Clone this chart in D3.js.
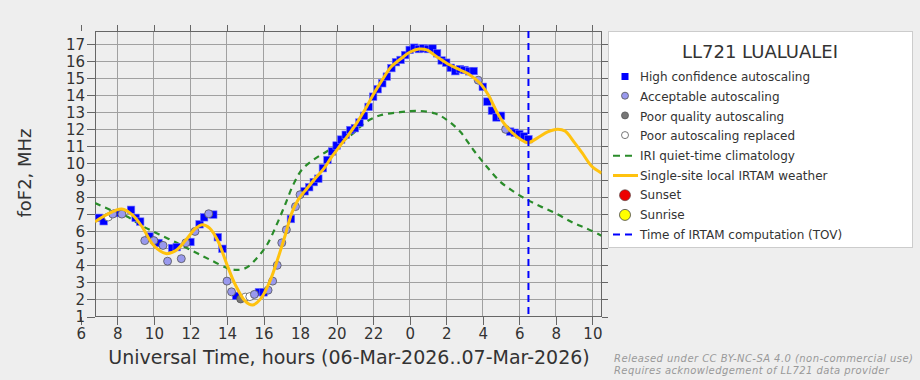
<!DOCTYPE html>
<html><head><meta charset="utf-8">
<script src="https://cdn.jsdelivr.net/npm/d3@7"></script>
<style>
html,body{margin:0;padding:0;background:#eeeeee;}
svg{display:block;font-family:"DejaVu Sans",sans-serif;}
</style></head>
<body>
<svg id="chart" width="920" height="380"></svg>
<script>
// ---- Data ----
const obsHours = [7.0,7.25,7.5,7.75,8.0,8.25,8.75,9.0,9.25,9.5,9.75,10.0,10.25,10.5,10.75,11.0,11.25,11.5,11.75,12.0,12.25,12.5,12.75,13.0,13.25,13.5,13.75,14.0,14.25,14.5,14.75,15.0,15.25,15.5,15.75,16.0,16.25,16.5,16.75,17.0,17.25,17.5,17.75,18.0,18.25,18.5,18.75,19.0,19.25,19.5,19.75,20.0,20.25,20.5,20.75,21.0,21.25,21.5,21.75,22.0,22.25,22.5,22.75,23.0,23.25,23.5,23.75,24.0,24.25,24.5,24.75,25.0,25.25,25.5,25.75,26.0,26.25,26.5,26.75,27.0,27.25,27.5,27.75,28.0,28.25,28.5,28.75,29.0,29.25,29.5,29.75,30.0,30.25,30.5];
const obsFoF2 = [6.8,6.6,6.85,7.02,7.08,7.02,7.27,6.8,6.58,5.46,5.7,5.46,5.32,5.18,4.25,5.02,5.08,4.4,5.33,5.38,6.0,6.42,6.83,7.04,6.99,5.66,4.98,3.08,2.45,2.21,2.03,2.14,2.17,2.3,2.43,2.42,2.55,3.08,4.01,5.33,6.1,6.73,7.46,8.16,8.36,8.6,8.9,9.1,9.72,10.2,10.7,11.05,11.4,11.68,11.96,12.07,12.4,12.8,13.32,13.92,14.36,14.71,15.1,15.6,15.95,16.08,16.37,16.67,16.8,16.72,16.76,16.72,16.75,16.47,16.05,15.92,15.62,15.42,15.54,15.49,15.41,15.43,14.89,14.5,13.63,13.1,12.7,12.8,12.0,11.87,11.8,11.72,11.58,11.42];
// H = high confidence, A = acceptable, P = poor quality, R = poor replaced
const obsType = ["H","H","R","A","H","A","H","H","H","A","H","A","H","A","A","H","H","A","A","H","A","H","H","A","H","H","H","A","A","H","P","R","R","A","H","H","A","A","A","A","A","H","A","A","H","H","H","H","H","H","H","H","H","H","H","H","H","H","H","H","H","H","H","H","H","H","H","H","H","H","H","H","H","H","H","H","H","H","H","H","H","H","A","H","H","H","H","H","A","H","H","H","H","H"];

const irtamHours = [6.78,7.42,8.24,8.85,9.4,9.97,10.65,11.2,11.75,12.3,12.65,13.05,13.5,14.0,14.45,15.0,15.4,15.85,16.35,16.8,17.2,17.55,17.9,18.4,18.85,19.3,19.75,20.2,20.65,21.1,21.55,22.0,22.5,23.0,23.55,24.0,24.5,24.93,25.48,26.03,26.76,27.3,27.85,28.3,28.76,29.22,29.85,30.45,31.0,31.55,32.1,32.5,33.0,33.45,33.95,34.5];
const irtamFoF2 = [6.57,6.99,7.32,6.95,6.2,5.2,4.7,4.88,5.5,6.2,6.4,6.2,5.45,4.05,2.88,1.9,1.67,2.05,3.08,4.45,5.82,7.09,7.87,8.55,9.14,9.69,10.41,11.05,11.68,12.37,13.15,14.03,14.91,15.69,16.18,16.53,16.72,16.67,16.27,15.89,15.49,15.2,14.71,14.03,13.05,12.27,11.58,11.22,11.5,11.85,12.01,11.9,11.25,10.6,9.85,9.43];

const iriHours = [6.78,7.6,8.5,9.4,10.3,11.25,12.15,13.05,14.0,14.5,15.05,15.65,16.2,16.72,17.18,17.63,18.1,18.73,19.46,20.2,20.92,21.65,22.4,23.47,24.4,25.4,26.03,26.76,27.48,28.21,28.94,29.67,30.41,31.14,32.05,32.96,33.69,34.5];
const iriFoF2 = [7.67,7.28,6.89,6.3,5.82,5.33,4.84,4.35,3.86,3.74,3.86,4.45,5.23,6.4,7.57,8.75,9.63,10.21,10.7,11.19,11.78,12.46,12.83,13.01,13.09,12.93,12.56,11.87,10.8,9.82,8.94,8.36,7.87,7.48,7.03,6.5,6.17,5.75];

const tovHour = 30.5;
const xTickHours = [6,8,10,12,14,16,18,20,22,24,26,28,30,32,34];
const yTicks = [1,2,3,4,5,6,7,8,9,10,11,12,13,14,15,16,17];
const stationTitle = "LL721 LUALUALEI";
const legendLabels = ["High confidence autoscaling","Acceptable autoscaling","Poor quality autoscaling","Poor autoscaling replaced","IRI quiet-time climatology","Single-site local IRTAM weather","Sunset","Sunrise","Time of IRTAM computation (TOV)"];
const xLabel = "Universal Time, hours (06-Mar-2026..07-Mar-2026)";
const yLabel = "foF2, MHz";
const credits = ["Released under CC BY-NC-SA 4.0 (non-commercial use)","Requires acknowledgement of LL721 data provider"];

// ---- Drawing ----
const svg = d3.select("#chart");
const x = d3.scaleLinear().domain([6, 34]).range([80.8, 592.4]);
const y = d3.scaleLinear().domain([1, 17]).range([316.5, 44.3]);
const xMin = 6.78, xMax = 34.5, yMax = 17.78;
const fL = x(xMin), fR = x(xMax), fT = y(yMax), fB = y(1);

svg.append("rect").attr("width",920).attr("height",380).attr("fill","#eeeeee");

const COL = {H:"#0000ff",A:"#9999ee",P:"#777777",R:"#ffffff",green:"#2a8c2a",yellow:"#ffc20e"};

// grid
const g = svg.append("g");
g.selectAll("line.vg").data(xTickHours.filter(h=>h>xMin&&h<xMax)).join("line")
  .attr("x1",d=>x(d)).attr("x2",d=>x(d)).attr("y1",fT).attr("y2",fB)
  .attr("stroke","#a0a0a0").attr("stroke-width",1).attr("shape-rendering","crispEdges");
g.selectAll("line.hg").data(yTicks.filter(v=>v>1)).join("line")
  .attr("x1",fL).attr("x2",fR).attr("y1",d=>y(d)).attr("y2",d=>y(d))
  .attr("stroke","#a0a0a0").attr("stroke-width",1).attr("shape-rendering","crispEdges");

// axes
const fmtHour = d => String(d % 24);
const xAxisB = d3.axisBottom(x).tickValues(xTickHours).tickFormat(fmtHour).tickSize(8).tickPadding(4);
const xAxisT = d3.axisTop(x).tickValues(xTickHours).tickFormat("").tickSize(6);
const yAxisL = d3.axisLeft(y).tickValues(yTicks).tickFormat(d3.format("d")).tickSize(8).tickPadding(2);
const yAxisR = d3.axisRight(y).tickValues(yTicks).tickFormat("").tickSize(6);
function styleAxis(sel){
  sel.select(".domain").remove();
  sel.selectAll(".tick line").attr("stroke","#666").attr("shape-rendering","crispEdges");
  sel.selectAll(".tick text").attr("fill","#333").style("font-size","15px").style("font-family","DejaVu Sans");
}
svg.append("g").attr("transform",`translate(0,${fB})`).call(xAxisB).call(styleAxis);
svg.append("g").attr("transform",`translate(0,${fT})`).call(xAxisT).call(styleAxis);
svg.append("g").attr("transform",`translate(${fL},0)`).call(yAxisL).call(styleAxis);
svg.append("g").attr("transform",`translate(${fR},0)`).call(yAxisR).call(styleAxis);

// frame
svg.append("rect").attr("x",fL).attr("y",fT).attr("width",fR-fL).attr("height",fB-fT)
  .attr("fill","none").attr("stroke","#666").attr("stroke-width",1).attr("shape-rendering","crispEdges");

const clip = svg.append("clipPath").attr("id","pc").append("rect")
  .attr("x",fL).attr("y",fT).attr("width",fR-fL).attr("height",fB-fT);
const plot = svg.append("g").attr("clip-path","url(#pc)");

// IRI
const line = d3.line().x(d=>x(d[0])).y(d=>y(d[1])).curve(d3.curveCatmullRom.alpha(0.5));
plot.append("path").datum(iriHours.map((h,i)=>[h,iriFoF2[i]]))
  .attr("d",line).attr("fill","none").attr("stroke",COL.green).attr("stroke-width",2.2)
  .attr("stroke-dasharray","6,5");

// observations
const obs = obsHours.map((h,i)=>({h,v:obsFoF2[i],t:obsType[i]}));
plot.selectAll("rect.obs").data(obs.filter(d=>d.t==="H")).join("rect")
  .attr("x",d=>x(d.h)-3.75).attr("y",d=>y(d.v)-3.75).attr("width",7.5).attr("height",7.5)
  .attr("fill",COL.H).attr("stroke","#6f6fff").attr("stroke-width",0.6);
plot.selectAll("circle.obs").data(obs.filter(d=>d.t!=="H")).join("circle")
  .attr("cx",d=>x(d.h)).attr("cy",d=>y(d.v)).attr("r",4)
  .attr("fill",d=>COL[d.t]).attr("stroke","#555").attr("stroke-width",0.8);

// IRTAM
plot.append("path").datum(irtamHours.map((h,i)=>[h,irtamFoF2[i]]))
  .attr("d",line).attr("fill","none").attr("stroke",COL.yellow).attr("stroke-width",3);

// TOV
plot.append("line").attr("x1",x(tovHour)).attr("x2",x(tovHour)).attr("y1",fT).attr("y2",fB)
  .attr("stroke","#0000ff").attr("stroke-width",2).attr("stroke-dasharray","7,5");

// axis labels
svg.append("text").attr("x",349).attr("y",364).attr("text-anchor","middle")
  .attr("fill","#333").style("font-size","19px").text(xLabel);
svg.append("text").attr("transform","translate(31,173) rotate(-90)").attr("text-anchor","middle")
  .attr("fill","#333").style("font-size","18px").text(yLabel);

// legend
const lg = svg.append("g");
lg.append("rect").attr("x",608.5).attr("y",31.5).attr("width",304).attr("height",216)
  .attr("fill","#ffffff").attr("stroke","#cccccc");
lg.append("text").attr("x",760).attr("y",58).attr("text-anchor","middle")
  .attr("fill","#333").style("font-size","18px").text(stationTitle);
const rowY = i => 77 + i*19.7;
legendLabels.forEach((lab,i)=>{
  lg.append("text").attr("x",640).attr("y",rowY(i)).attr("dy","0.35em")
    .attr("fill","#333").style("font-size","12px").text(lab);
});
lg.append("rect").attr("x",621.5).attr("y",rowY(0)-4).attr("width",7).attr("height",7).attr("fill",COL.H);
[["A",1],["P",2],["R",3]].forEach(([t,i])=>{
  lg.append("circle").attr("cx",625).attr("cy",rowY(i)-1).attr("r",3.5)
    .attr("fill",COL[t]).attr("stroke","#555").attr("stroke-width",0.8);
});
lg.append("line").attr("x1",613).attr("x2",637).attr("y1",rowY(4)).attr("y2",rowY(4))
  .attr("stroke",COL.green).attr("stroke-width",2).attr("stroke-dasharray","7,5");
lg.append("line").attr("x1",613).attr("x2",638).attr("y1",rowY(5)).attr("y2",rowY(5))
  .attr("stroke",COL.yellow).attr("stroke-width",3);
lg.append("circle").attr("cx",625).attr("cy",rowY(6)).attr("r",5.5).attr("fill","#ee0000").attr("stroke","#444").attr("stroke-width",0.6);
lg.append("circle").attr("cx",625).attr("cy",rowY(7)).attr("r",5.5).attr("fill","#ffff00").attr("stroke","#444").attr("stroke-width",0.8);
lg.append("line").attr("x1",613).attr("x2",637).attr("y1",rowY(8)).attr("y2",rowY(8))
  .attr("stroke","#0000ff").attr("stroke-width",2).attr("stroke-dasharray","7,5");

// credits
const creditLen = [299, 275];
credits.forEach((c,i)=>{
  svg.append("text").attr("x",614).attr("y",362+i*11.8).attr("fill","#999")
    .attr("textLength",creditLen[i]).attr("lengthAdjust","spacing")
    .style("font-size","10px").style("font-style","italic").text(c);
});
</script>
</body></html>
